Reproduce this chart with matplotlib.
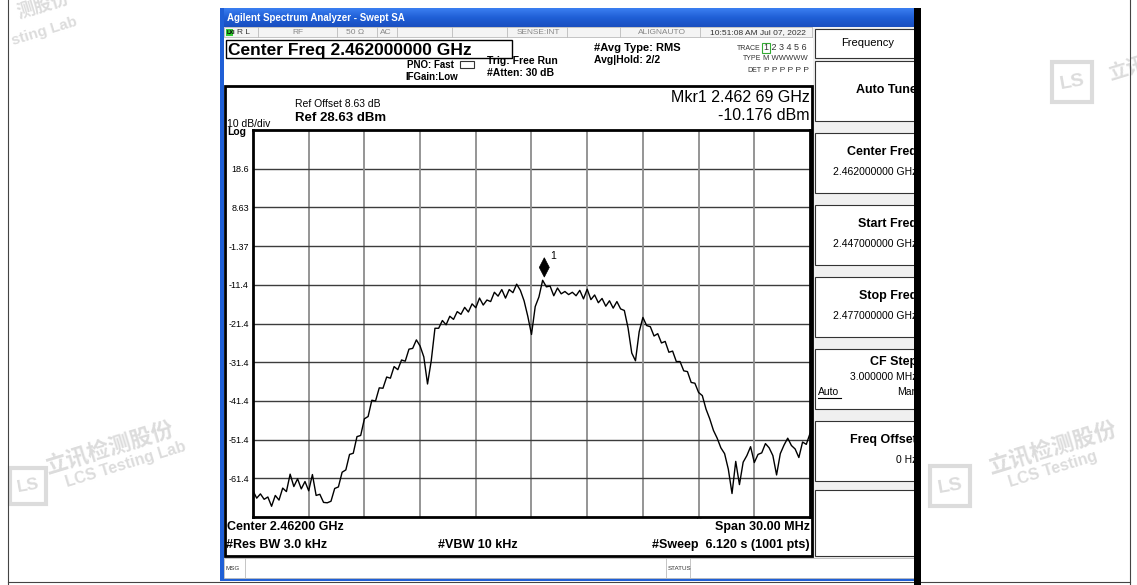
import matplotlib
matplotlib.use("Agg")
import matplotlib.pyplot as plt
import numpy as np
from matplotlib.patches import Rectangle, Polygon


# DATA

START_FREQ_GHZ = 2.447
STOP_FREQ_GHZ = 2.477
REF_LEVEL = 28.63
DB_PER_DIV = 10
N_DIV = 10

# trace level in dBm, one value every 0.2 MHz from start to stop
trace_dbm = [
    -64.6, -66.5, -65.4, -66.8, -66.2, -68.6, -65.8, -67.0, -63.9, -64.8,
    -60.3, -63.5, -61.5, -64.1, -62.2, -64.6, -60.4, -65.8, -65.5, -67.6,
    -67.7, -67.3, -64.0, -63.6, -59.8, -59.2, -55.2, -54.9, -50.6, -50.3,
    -46.0, -45.4, -41.2, -41.4, -38.0, -38.1, -35.2, -35.5, -32.5, -33.3,
    -30.8, -31.1, -28.0, -27.8, -25.6, -27.2, -30.0, -37.0, -31.0, -22.6,
    -22.6, -20.6, -21.7, -19.5, -20.3, -18.3, -19.0, -17.2, -18.4, -16.3,
    -17.3, -14.8, -16.6, -15.3, -15.7, -13.3, -14.3, -12.6, -14.8, -12.6,
    -13.4, -11.2, -12.8, -15.5, -19.5, -24.2, -17.0, -14.5, -10.2, -11.9,
    -11.7, -14.2, -12.2, -13.7, -13.1, -13.9, -13.3, -14.2, -12.8, -15.0,
    -12.5, -15.2, -14.0, -16.0, -14.9, -16.9, -15.5, -17.4, -15.7, -17.6,
    -18.0, -22.5, -29.0, -31.0, -23.5, -19.8, -21.9, -22.2, -24.6, -24.0,
    -26.4, -26.0, -28.8, -28.5, -31.2, -31.2, -33.6, -33.8, -36.6, -36.8,
    -39.2, -40.0, -43.5, -46.0, -49.0, -51.0, -53.5, -55.0, -59.0, -65.3,
    -57.0, -63.0, -57.2, -55.5, -53.2, -57.3, -55.2, -54.8, -52.4, -53.5,
    -55.5, -60.5, -55.0, -52.8, -51.0, -52.9, -53.8, -56.0, -52.0, -52.6,
    -49.8,
]

MARKER_FREQ_GHZ = 2.46269
MARKER_DBM = -10.176

y_tick_labels = ["18.6", "8.63", "-1.37", "-11.4", "-21.4", "-31.4", "-41.4", "-51.4", "-61.4"]

softkeys = [
    ("Auto Tune", None),
    ("Center Freq", "2.462000000 GHz"),
    ("Start Freq", "2.447000000 GHz"),
    ("Stop Freq", "2.477000000 GHz"),
    ("CF Step", "3.000000 MHz"),
    ("Freq Offset", "0 Hz"),
]


# STYLE

W, H = 1137, 585
FONT = "Liberation Sans"
CJK = ["Noto Sans CJK SC", "DejaVu Sans"]
WM_COLOR = "#dcdcdc"
TITLE_BLUE = "#1f5fd6"

plt.rcParams["font.family"] = [FONT, "DejaVu Sans"]

fig = plt.figure(figsize=(W / 100, H / 100), dpi=100)
fig.patch.set_facecolor("white")

bg = fig.add_axes([0, 0, 1, 1])
bg.set_xlim(0, W)
bg.set_ylim(H, 0)
bg.axis("off")


def rect(x0, y0, x1, y1, fc="none", ec="none", lw=1.0, z=1):
    bg.add_patch(Rectangle((x0, y0), x1 - x0, y1 - y0, facecolor=fc,
                           edgecolor=ec, linewidth=lw, zorder=z))


def txt(x, y, s, size=8, weight="normal", ha="left", va="center", color="black", z=5, **kw):
    bg.text(x, y, s, fontsize=size, fontweight=weight, ha=ha, va=va,
            color=color, zorder=z, **kw)


# WATERMARKS (behind everything)

def watermark(x, y, size, show_lab=True, lab_text="LCS Testing Lab"):
    txt(x, y, "立讯检测股份", size=size, weight="bold", color=WM_COLOR,
        rotation=17, family=CJK, z=0, ha="left", va="bottom")
    if show_lab:
        txt(x + 22, y + 12, lab_text, size=size * 0.72, weight="bold",
            color=WM_COLOR, rotation=17, z=0, ha="left", va="bottom")


def logo(x, y, s):
    rect(x, y, x + s, y + s, ec=WM_COLOR, lw=3, z=0)
    txt(x + s / 2, y + s / 2, "LS", size=s * 0.35, weight="bold",
        color=WM_COLOR, ha="center", z=0, rotation=10)


watermark(42, 478, 16)
logo(10, 468, 36)
watermark(985, 478, 16, lab_text="LCS Testing")
logo(930, 466, 40)
txt(10, 48, "sting Lab", size=11, weight="bold", color=WM_COLOR, rotation=17, z=0, va="bottom")
txt(14, 22, "测股份", size=13, weight="bold", color=WM_COLOR, rotation=17, family=CJK, z=0, va="bottom")
logo(1052, 62, 40)
txt(1106, 85, "立讯", size=14, weight="bold", color=WM_COLOR, rotation=17,
    family=CJK, z=0, va="bottom")

# outer page border
bg.plot([8, 8], [0, H], color="#444", lw=0.8, zorder=1)
bg.plot([1130, 1130], [0, H], color="#444", lw=0.8, zorder=1)
bg.plot([8, 1130], [582, 582], color="#444", lw=0.8, zorder=1)


# WINDOW CHROME

# title bar gradient
grad = np.linspace(0, 1, 20).reshape(-1, 1)
bg.imshow(grad, extent=(220, 916, 27, 8), aspect="auto", zorder=2,
          cmap=matplotlib.colors.LinearSegmentedColormap.from_list(
              "tb", ["#3a7ef0", TITLE_BLUE, "#1a4fc0"]))
txt(227, 18, "Agilent Spectrum Analyzer - Swept SA", size=7, weight="bold", color="white", z=3)

rect(220, 8, 224, 581, fc=TITLE_BLUE, z=2)
rect(220, 578, 916, 581, fc=TITLE_BLUE, z=2)
rect(914, 8, 921, H, fc="black", z=8)

# status row
rect(224, 27, 914, 37, fc="#f4f4f4", ec="#bbbbbb", lw=0.6, z=2)
for xs in [258, 337, 377, 397, 452, 507, 567, 620, 700, 812]:
    bg.plot([xs, xs], [27, 37], color="#bbbbbb", lw=0.6, zorder=3)
rect(226, 29, 233, 36, fc="#33cc33", z=3)
txt(227, 32.5, "LXI", size=4, weight="bold", color="black", z=4)
txt(237, 32.5, "R L", size=6, color="#333")
txt(292, 32.5, "RF", size=6, color="#888")
txt(346, 32.5, "50 Ω", size=6, color="#888")
txt(380, 32.5, "AC", size=6, color="#888")
txt(517, 32.5, "SENSE:INT", size=6, color="#888")
txt(638, 32.5, "ALIGNAUTO", size=6, color="#888")
txt(710, 32.5, "10:51:08 AM Jul 07, 2022", size=6, color="#333")

# header text
rect(226, 40, 512, 58, ec="black", lw=1, z=3)
txt(228, 50, "Center Freq 2.462000000 GHz", size=12.5, weight="bold")
txt(454, 65, "PNO: Fast", size=7, weight="bold", ha="right")
txt(458, 77, "IFGain:Low", size=7, weight="bold", ha="right")
bg.add_patch(Rectangle((460, 61), 14, 7, facecolor="none", edgecolor="#333",
                       linewidth=0.8, zorder=4))
txt(487, 61, "Trig: Free Run", size=7.5, weight="bold")
txt(487, 73, "#Atten: 30 dB", size=7.5, weight="bold")
txt(594, 48, "#Avg Type: RMS", size=8, weight="bold")
txt(594, 60, "Avg|Hold: 2/2", size=7.5, weight="bold")

txt(761, 48, "TRACE", size=5, ha="right", color="#333")
txt(761, 59, "TYPE", size=5, ha="right", color="#333")
txt(761, 70, "DET", size=5, ha="right", color="#333")
rect(762, 43, 770, 53, ec="#33aa33", lw=0.8, z=4)
txt(763.5, 48, "1 2 3 4 5 6", size=6.5, color="#333")
txt(763, 59, "M WWWWW", size=5.5, color="#333")
txt(763.5, 70, "P P P P P P", size=6, color="#333")

# right softkey panel
rect(813, 27, 914, 578, fc="#f0f0f0", z=2)
rect(815, 29, 916, 58, fc="white", ec="#333", lw=0.8, z=3)
txt(868, 43, "Frequency", size=8, ha="center")
key_top = 61
for label, value in softkeys:
    rect(815, key_top, 916, key_top + 60, fc="white", ec="#333", lw=0.8, z=3)
    if value is None:
        txt(917, key_top + 29, label, size=9, weight="bold", ha="right")
    elif label == "CF Step":
        txt(917, key_top + 13, label, size=9, weight="bold", ha="right")
        txt(917, key_top + 28, value, size=7.5, ha="right")
        txt(818, key_top + 43, "Auto", size=7.5)
        bg.plot([818, 841], [key_top + 49, key_top + 49], color="black", lw=0.8, zorder=5)
        txt(917, key_top + 43, "Man", size=7.5, ha="right")
    else:
        txt(917, key_top + 19, label, size=9, weight="bold", ha="right")
        txt(917, key_top + 39, value, size=7.5, ha="right")
    key_top += 72
rect(815, key_top - 3, 916, 556, fc="white", ec="#333", lw=0.8, z=3)

# screen frame
rect(225, 86, 812, 556, ec="black", lw=2, z=4)

txt(295, 104, "Ref Offset 8.63 dB", size=7.5)
txt(295, 118, "Ref 28.63 dBm", size=9.5, weight="bold")
txt(227, 124, "10 dB/div", size=7.5)
txt(227, 132, "Log", size=7.5, weight="bold")
txt(810, 97, "Mkr1 2.462 69 GHz", size=11.5, ha="right")
txt(810, 115, "-10.176 dBm", size=11.5, ha="right")

txt(227, 527, "Center 2.46200 GHz", size=9, weight="bold")
txt(810, 527, "Span 30.00 MHz", size=9, weight="bold", ha="right")
txt(226, 545, "#Res BW 3.0 kHz", size=9, weight="bold")
txt(438, 545, "#VBW 10 kHz", size=9, weight="bold")
txt(810, 545, "#Sweep  6.120 s (1001 pts)", size=9, weight="bold", ha="right")
txt(699, 520, "^", size=7, ha="center")

# message bar
rect(224, 558, 914, 578, fc="white", ec="#bbbbbb", lw=0.6, z=2)
bg.plot([245, 245], [558, 578], color="#bbbbbb", lw=0.6, zorder=3)
bg.plot([666, 666], [558, 578], color="#bbbbbb", lw=0.6, zorder=3)
bg.plot([690, 690], [558, 578], color="#bbbbbb", lw=0.6, zorder=3)
txt(226, 568, "MSG", size=4.5, color="#333")
txt(668, 568, "STATUS", size=4.5, color="#333")


# TRACE AXES

ax = fig.add_axes([253 / W, (H - 517) / H, (810 - 253) / W, (517 - 130) / H])
bottom_level = REF_LEVEL - N_DIV * DB_PER_DIV
ax.set_xlim(START_FREQ_GHZ, STOP_FREQ_GHZ)
ax.set_ylim(bottom_level, REF_LEVEL)
ax.set_facecolor("white")

freqs = np.linspace(START_FREQ_GHZ, STOP_FREQ_GHZ, len(trace_dbm))
step = (STOP_FREQ_GHZ - START_FREQ_GHZ) / N_DIV
for k in range(1, N_DIV):
    ax.axvline(START_FREQ_GHZ + k * step, color="#8c8c8c", lw=1.3, zorder=1)
    ax.axhline(REF_LEVEL - k * DB_PER_DIV, color="#3c3c3c", lw=1.0, zorder=1)

ax.plot(freqs, trace_dbm, color="black", lw=1.0, zorder=3)

# marker: tall diamond just above the peak
cy = MARKER_DBM + 3.3
ax.add_patch(Polygon([(MARKER_FREQ_GHZ, cy - 2.5), (MARKER_FREQ_GHZ + 0.00027, cy),
                      (MARKER_FREQ_GHZ, cy + 2.5), (MARKER_FREQ_GHZ - 0.00027, cy)],
                     closed=True, facecolor="black", edgecolor="black", lw=0.5, zorder=4))
ax.text(MARKER_FREQ_GHZ + 0.00033, MARKER_DBM + 5.6, "1", fontsize=7.5, zorder=4)

ax.set_xticks([])
ax.set_yticks([REF_LEVEL - k * DB_PER_DIV for k in range(1, N_DIV)])
ax.set_yticklabels(y_tick_labels, fontsize=6.5)
ax.tick_params(axis="y", length=0, pad=3)
for sp in ax.spines.values():
    sp.set_linewidth(2)
    sp.set_color("black")

fig.savefig("out.png", dpi=100)
